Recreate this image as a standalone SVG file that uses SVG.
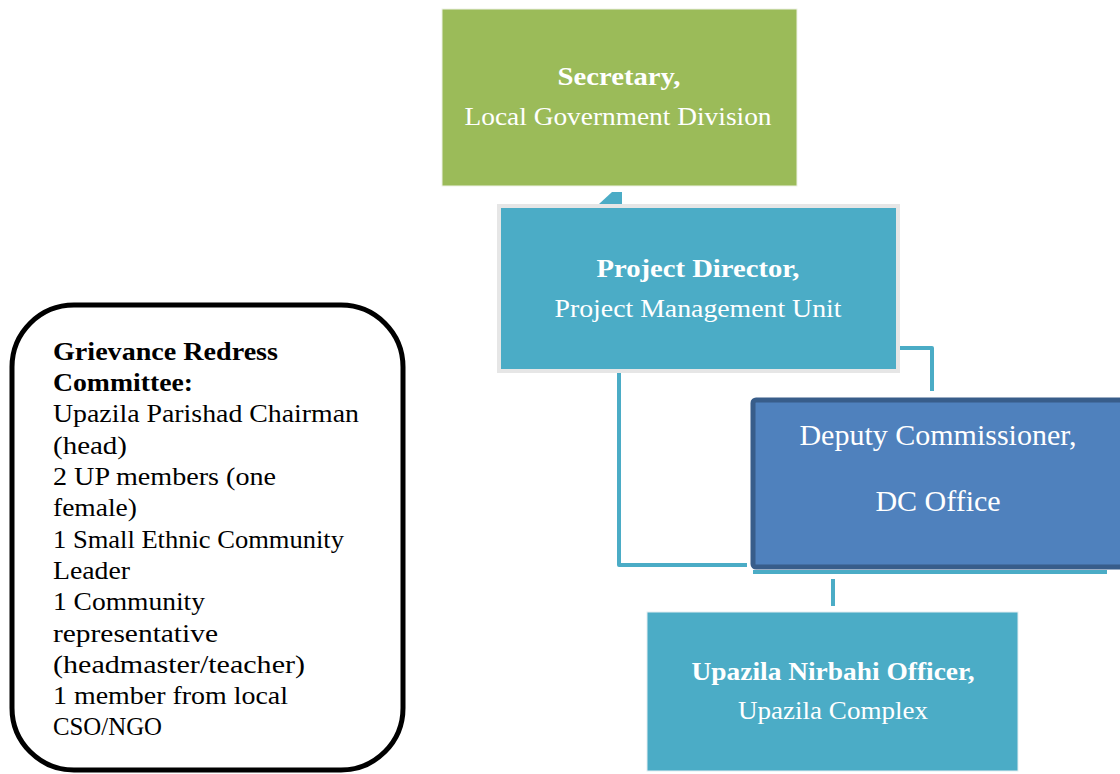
<svg xmlns="http://www.w3.org/2000/svg" width="1120" height="774" viewBox="0 0 1120 774">
  <style>
    .conn { fill: none; stroke: #4BACC6; stroke-width: 4; stroke-linejoin: round; }
    .lbl { font-family: "Liberation Serif", "DejaVu Serif", serif; fill: #FFFFFF; text-anchor: middle; font-size: 25px; }
    .dc { font-family: "Liberation Serif", "Times New Roman", serif; fill: #FFFFFF; text-anchor: middle; font-size: 30px; }
    .b { font-weight: bold; }
    .grc { font-family: "Liberation Serif", "DejaVu Serif", serif; fill: #000000; font-size: 26px; }
  </style>
  <rect width="1120" height="774" fill="#FFFFFF"/>

  <!-- connectors -->
  <g id="connectors">
    <polygon points="599,204 612,192 622,192 622,204" fill="#4BACC6"/>
    <path class="conn" d="M900,348 H932 V391"/>
    <path class="conn" d="M619,372 V565 H747"/>
    <line x1="753" y1="572" x2="1107" y2="572" stroke="#4BACC6" stroke-width="4"/>
    <line x1="833" y1="579" x2="833" y2="606" stroke="#4BACC6" stroke-width="4"/>
  </g>

  <!-- Secretary -->
  <g id="secretary">
    <rect x="442" y="9" width="355" height="177" fill="#9BBB59" stroke="#EEF2E6" stroke-width="1"/>
    <text class="lbl b" x="619" y="85" textLength="123" lengthAdjust="spacingAndGlyphs">Secretary,</text>
    <text class="lbl" x="618" y="125" textLength="307" lengthAdjust="spacingAndGlyphs">Local Government Division</text>
  </g>

  <!-- Project Director -->
  <g id="project-director">
    <rect x="499" y="206" width="399" height="165" fill="#4BACC6" stroke="#E6E6E6" stroke-width="4"/>
    <text class="lbl b" x="698" y="277" textLength="203" lengthAdjust="spacingAndGlyphs">Project Director,</text>
    <text class="lbl" x="698" y="317" textLength="287" lengthAdjust="spacingAndGlyphs">Project Management Unit</text>
  </g>

  <!-- Deputy Commissioner -->
  <g id="deputy-commissioner">
    <rect x="753" y="400" width="372" height="167" rx="3" fill="#4F81BD" stroke="#385D8A" stroke-width="5"/>
    <text class="dc" x="938" y="445">Deputy Commissioner,</text>
    <text class="dc" x="938" y="511">DC Office</text>
  </g>

  <!-- Upazila Nirbahi Officer -->
  <g id="upazila-nirbahi-officer">
    <rect x="647" y="612" width="371" height="159" fill="#4BACC6" stroke="#E3EEF2" stroke-width="1"/>
    <text class="lbl b" x="833" y="680" textLength="283" lengthAdjust="spacingAndGlyphs">Upazila Nirbahi Officer,</text>
    <text class="lbl" x="833" y="719" textLength="190" lengthAdjust="spacingAndGlyphs">Upazila Complex</text>
  </g>

  <!-- Grievance Redress Committee -->
  <g id="grievance-redress-committee">
    <rect x="12" y="305" width="391" height="465" rx="62" ry="62" fill="#FFFFFF" stroke="#000000" stroke-width="5"/>
    <text class="grc b" x="53" y="360" textLength="225" lengthAdjust="spacingAndGlyphs">Grievance Redress</text>
    <text class="grc b" x="53" y="391" textLength="140" lengthAdjust="spacingAndGlyphs">Committee:</text>
    <text class="grc" x="53" y="422" textLength="306" lengthAdjust="spacingAndGlyphs">Upazila Parishad Chairman</text>
    <text class="grc" x="53" y="454" textLength="74" lengthAdjust="spacingAndGlyphs">(head)</text>
    <text class="grc" x="53" y="485" textLength="223" lengthAdjust="spacingAndGlyphs">2 UP members (one</text>
    <text class="grc" x="53" y="516" textLength="84" lengthAdjust="spacingAndGlyphs">female)</text>
    <text class="grc" x="53" y="548" textLength="291" lengthAdjust="spacingAndGlyphs">1 Small Ethnic Community</text>
    <text class="grc" x="53" y="579" textLength="77" lengthAdjust="spacingAndGlyphs">Leader</text>
    <text class="grc" x="53" y="610" textLength="152" lengthAdjust="spacingAndGlyphs">1 Community</text>
    <text class="grc" x="53" y="642" textLength="165" lengthAdjust="spacingAndGlyphs">representative</text>
    <text class="grc" x="53" y="673" textLength="252" lengthAdjust="spacingAndGlyphs">(headmaster/teacher)</text>
    <text class="grc" x="53" y="704" textLength="235" lengthAdjust="spacingAndGlyphs">1 member from local</text>
    <text class="grc" x="53" y="735" textLength="109" lengthAdjust="spacingAndGlyphs">CSO/NGO</text>
  </g>
</svg>
